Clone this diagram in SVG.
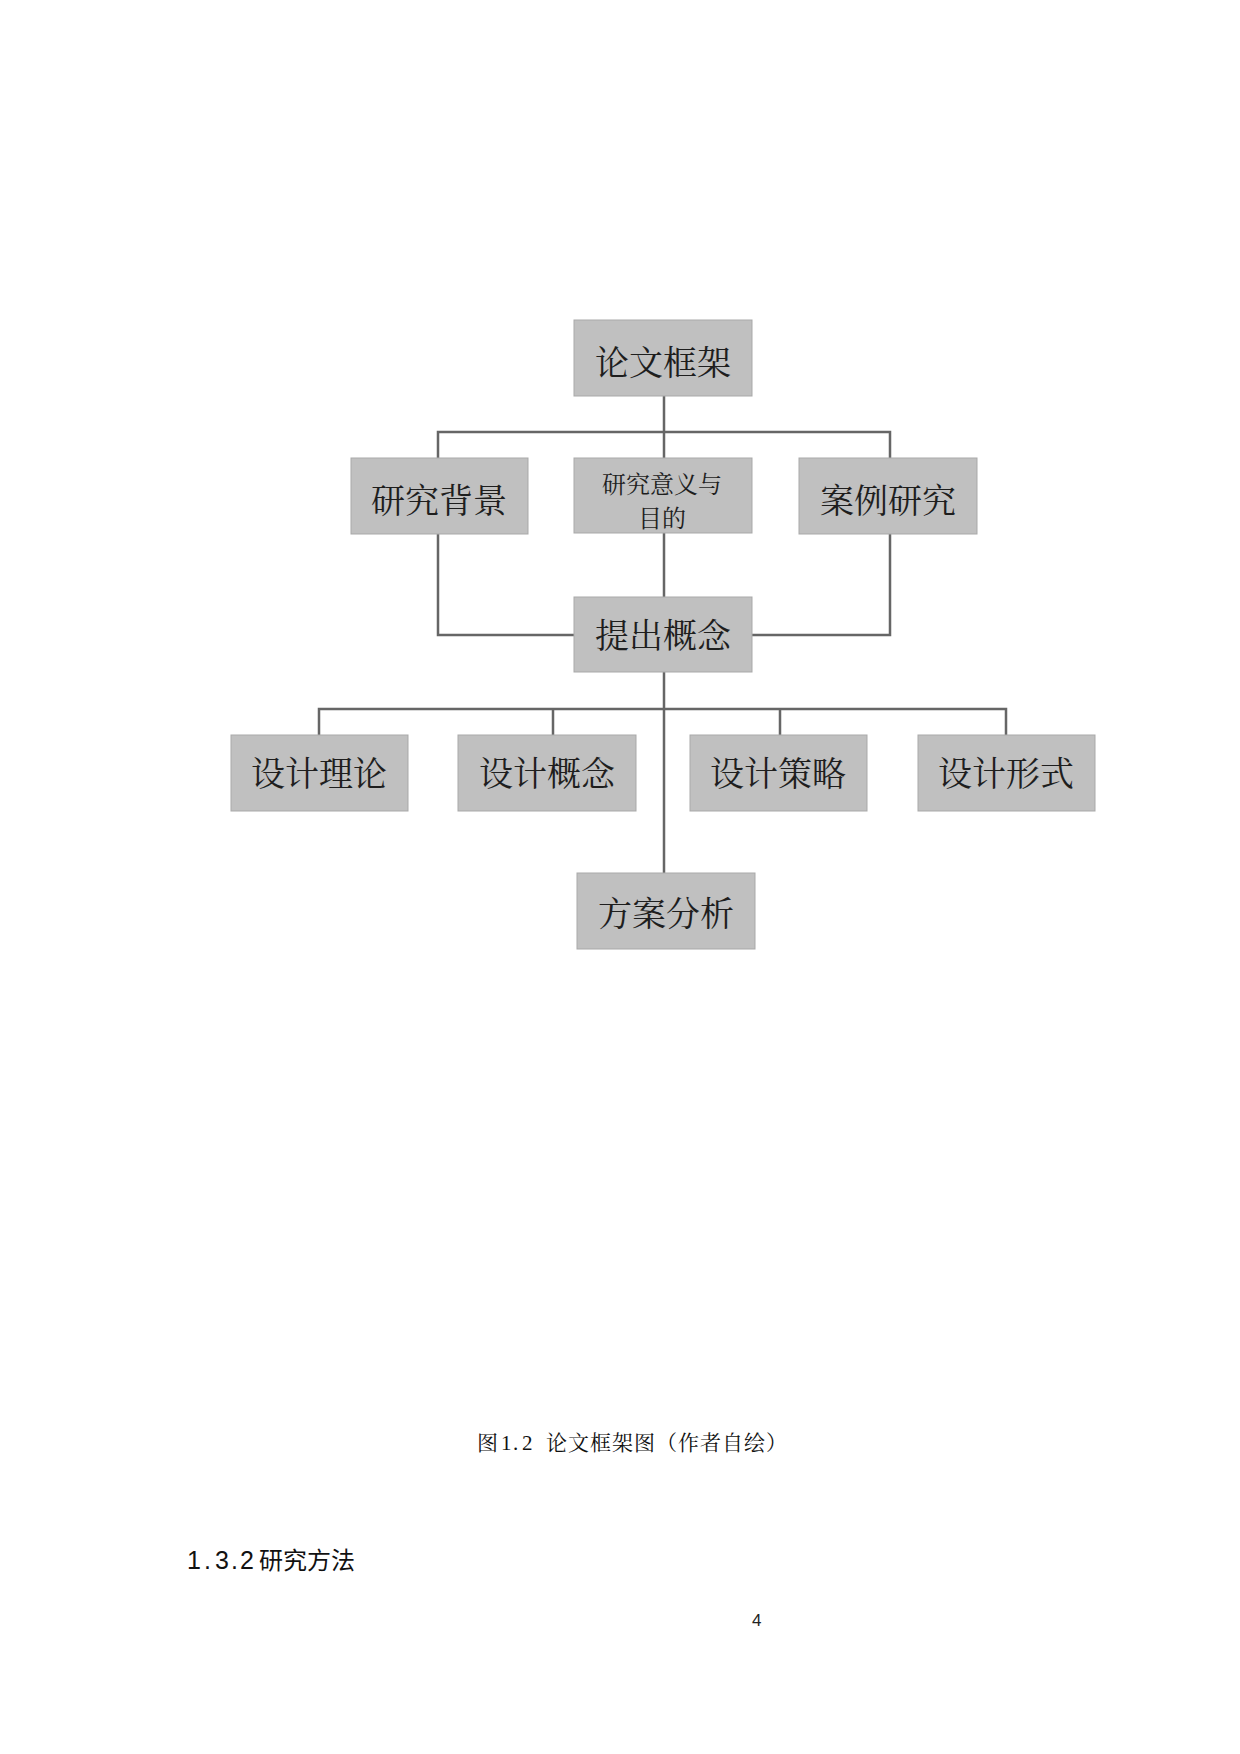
<svg xmlns="http://www.w3.org/2000/svg" width="1240" height="1754" viewBox="0 0 1240 1754">
<style>
.box{fill:#c0c0c0;stroke:#a9a9a9;stroke-width:1}
.lbl{font-family:"Noto Serif CJK SC","Noto Sans CJK SC",serif;font-size:34px;fill:#1e1e1e;text-anchor:middle}
.sm{font-size:24px}
.con{stroke:#666;stroke-width:2.5;fill:none}
</style>
<rect width="1240" height="1754" fill="#fff"/>
<g id="connectors">
<path class="con" d="M664,396V458M438,458V432H890V458"/>
<path class="con" d="M664,533V597M438,534V635H574M890,534V635H752"/>
<path class="con" d="M664,672V873M319,735V709H1006V735M553,709V735M780,709V735"/>
</g>
<g id="n-root"><rect class="box" x="574" y="320" width="178" height="76"/><text class="lbl" x="663" y="375">论文框架</text></g>
<g id="n-bg"><rect class="box" x="351" y="458" width="177" height="76"/><text class="lbl" x="439" y="513">研究背景</text></g>
<g id="n-mean"><rect class="box" x="574" y="458" width="178" height="75"/><text class="lbl sm" x="662" y="493">研究意义与</text><text class="lbl sm" x="662" y="527">目的</text></g>
<g id="n-case"><rect class="box" x="799" y="458" width="178" height="76"/><text class="lbl" x="888" y="513">案例研究</text></g>
<g id="n-concept"><rect class="box" x="574" y="597" width="178" height="75"/><text class="lbl" x="663" y="648">提出概念</text></g>
<g id="n-theory"><rect class="box" x="231" y="735" width="177" height="76"/><text class="lbl" x="319" y="786">设计理论</text></g>
<g id="n-dconcept"><rect class="box" x="458" y="735" width="178" height="76"/><text class="lbl" x="547" y="786">设计概念</text></g>
<g id="n-strategy"><rect class="box" x="690" y="735" width="177" height="76"/><text class="lbl" x="778" y="786">设计策略</text></g>
<g id="n-form"><rect class="box" x="918" y="735" width="177" height="76"/><text class="lbl" x="1006" y="786">设计形式</text></g>
<g id="n-plan"><rect class="box" x="577" y="873" width="178" height="76"/><text class="lbl" x="666" y="926">方案分析</text></g>
<text font-family="'Liberation Serif','Noto Serif CJK SC','Noto Sans CJK SC',serif" font-size="21" fill="#111" y="1450"><tspan x="477">图</tspan><tspan x="501">1</tspan><tspan x="513">.</tspan><tspan x="522">2</tspan><tspan x="546" letter-spacing="1">论文框架图（作者自绘）</tspan></text>
<text font-family="'Liberation Sans','Noto Sans CJK SC',sans-serif" font-size="25" fill="#111" y="1569"><tspan x="187">1</tspan><tspan x="204">.</tspan><tspan x="215">3</tspan><tspan x="231">.</tspan><tspan x="240">2</tspan><tspan x="259" font-size="24">研究方法</tspan></text>
<text font-family="'Liberation Sans',sans-serif" font-size="17" fill="#222" x="752" y="1626">4</text>
</svg>
